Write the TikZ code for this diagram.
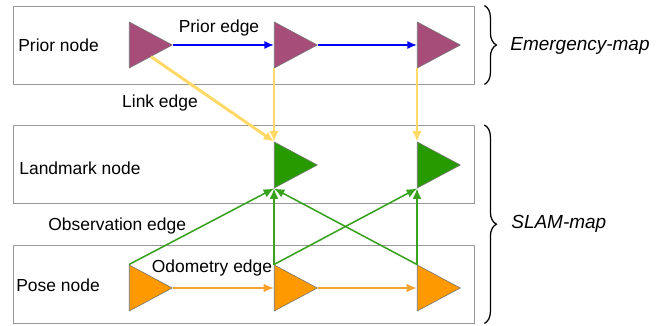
\documentclass[tikz,border=0pt]{standalone}
\usepackage{fontspec}
\setmainfont{Liberation Sans}
\usetikzlibrary{arrows.meta,calc,shapes.geometric,decorations.pathreplacing}
\definecolor{priorfill}{HTML}{A64D79}
\definecolor{markfill}{HTML}{279A00}
\definecolor{posefill}{HTML}{FF9900}
\definecolor{linkcol}{HTML}{FFD966}
\definecolor{obscol}{HTML}{38A11D}
\definecolor{odocol}{HTML}{F6A22E}

\begin{document}
\begin{tikzpicture}[font=\fontsize{12.4}{15}\selectfont,
	layer/.style = {draw=black!40, line width=0.6pt, minimum width=11.51cm, minimum height=1.95cm, inner sep=0},
	tri/.style = {shape=isosceles triangle, isosceles triangle stretches, inner sep=0, minimum width=1.15cm, minimum height=1.075cm, draw=black!55, line width=0.4pt, anchor=apex},
	prioredge/.style = {draw=blue, line width=1.1pt, -{Latex[length=2.4mm,width=2mm]}},
	linkedge/.style = {draw=linkcol, line width=2.1pt, -{Latex[length=2.6mm,width=2.4mm]}},
	obsedge/.style = {draw=obscol, line width=1.1pt, -{Latex[length=2.6mm,width=2.2mm]}},
	odoedge/.style = {draw=odocol, line width=1.4pt, -{Latex[length=2.6mm,width=2.2mm]}},
	mapbrace/.style = {draw, line width=0.9pt, decorate, decoration={brace, amplitude=0.3cm}}]
	\useasboundingbox (0,0) rectangle (16.675,8.15);
	\node[layer] (E) at (6.095,7.025) {};
	\node[layer] (M) at (6.095,4.04) {};
	\node[layer] (S) at (6.095,1.05) {};
	\foreach \i/\x in {1/4.325, 2/7.95, 3/11.525} \node[tri, fill=priorfill] (P\i) at (\x,7.025) {};
	\foreach \i/\x in {1/7.95, 2/11.525} \node[tri, fill=markfill] (L\i) at (\x,4.025) {};
	\foreach \i/\x in {1/4.325, 2/7.95, 3/11.525} \node[tri, fill=posefill] (X\i) at (\x,0.95) {};
	\node[anchor=west] (tP) at (0.335,7.025) {Prior node};
	\node[anchor=west] (tL) at (0.36,3.95) {Landmark node};
	\node[anchor=west] (tX) at (0.285,1.025) {Pose node};
	\node (tPE) at (5.475,7.45) {Prior edge};
	\node (tLE) at (4.0,5.575) {Link edge};
	\node (tOE) at (2.93,2.5) {Observation edge};
	\node (tDE) at (5.3,1.45) {Odometry edge};
	\path
		(P1.apex) edge[prioredge] ($(P2.left corner)!0.5!(P2.right corner)$)
		(P2.apex) edge[prioredge] ($(P3.left corner)!0.5!(P3.right corner)$);
	\path
		(X1.apex) edge[odoedge] ($(X2.left corner)!0.5!(X2.right corner)$)
		(X2.apex) edge[odoedge] ($(X3.left corner)!0.5!(X3.right corner)$);
	\path
		($(P1.apex)!0.5!(P1.right corner)$) edge[linkedge] (L1.left corner)
		(P2.right corner) edge[linkedge] (L1.left corner)
		(P3.right corner) edge[linkedge] (L2.left corner);
	\path
		(X1.left corner) edge[obsedge] (L1.right corner)
		(X2.left corner) edge[obsedge] (L1.right corner)
		(X2.left corner) edge[obsedge] (L2.right corner)
		(X3.left corner) edge[obsedge] (L1.right corner)
		(X3.left corner) edge[obsedge] (L2.right corner);
	\draw[mapbrace] ($(E.north east)+(0.25,0)$) -- ($(E.south east)+(0.25,0)$);
	\draw[mapbrace] ($(M.north east)+(0.25,0)$) -- ($(S.south east)+(0.25,0)$);
	\node[anchor=west, font=\fontsize{13.5}{16}\selectfont\itshape] (tEM) at (12.635,7.0) {Emergency-map};
	\node[anchor=west, font=\fontsize{13.5}{16}\selectfont\itshape] (tSM) at (12.66,2.55) {SLAM-map};
\end{tikzpicture}
\end{document}
